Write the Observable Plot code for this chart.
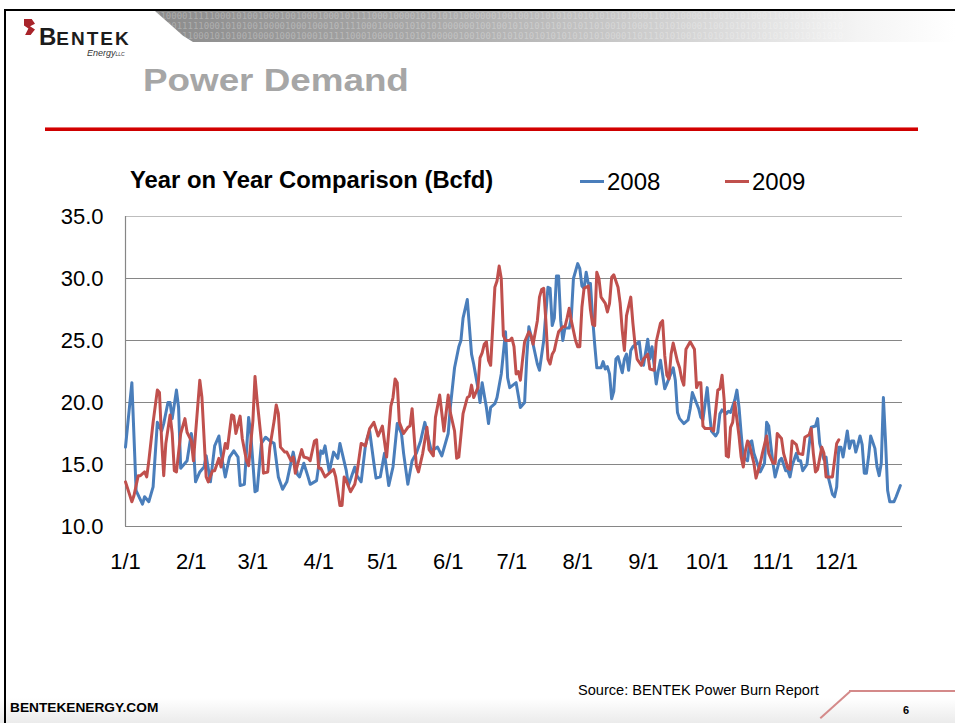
<!DOCTYPE html>
<html><head><meta charset="utf-8">
<script src="https://cdn.jsdelivr.net/npm/d3@7"></script>
<script src="https://cdn.jsdelivr.net/npm/@observablehq/plot@0.6"></script>
<style>
html,body{margin:0;padding:0;background:#fff;}
body{width:955px;height:723px;overflow:hidden;position:relative;font-family:"Liberation Sans",Arial,sans-serif;}
.abs{position:absolute;white-space:nowrap;line-height:1;}
</style></head><body>
<!-- slide frame and header -->
<div class="abs" style="left:0;top:698px;width:955px;height:25px;background:linear-gradient(to bottom,#ffffff,#ebebeb);"></div>
<div class="abs" style="left:4px;top:9px;width:951px;height:2px;background:#000"></div>
<div class="abs" style="left:4px;top:9px;width:2px;height:714px;background:#000"></div>
<div class="abs" id="band" style="left:155px;top:11px;width:800px;height:31px;background:linear-gradient(to right,#8c8c8c 0%,#a9a9a9 35%,#d2d2d2 65%,#f4f4f4 88%,#ffffff 100%);clip-path:polygon(0 0,100% 0,100% 100%,38px 100%,28px 80%);overflow:hidden;">
  <div style="font:9px/10px 'DejaVu Sans Mono',monospace;color:rgba(255,255,255,0.28);">0100001111100010100100010010001000101111000100001010101010000001001001010101010101010101000110101000011001010100011001010101010<br>0000111110001010100100001000100010111100010000101010100000010010010101010101010110100101000110101000011001010101010101010101010<br>0011111000101010010000100010001011110001000010101010000010010010101010101010101010100001101110101001010101010101010101010101010</div>
</div>
<div class="abs" style="left:24px;top:19px;width:11px;height:16px;background:#a8242a;clip-path:polygon(0 0,70% 0,100% 30%,55% 45%,100% 65%,60% 100%,10% 100%,40% 60%,0 40%);"></div>
<div class="abs" style="left:39px;top:25px;font-weight:bold;color:#1c1c1c;"><span style="font-size:24px;">B</span><span style="font-size:19px;letter-spacing:2px;">ENTEK</span></div>
<div class="abs" style="left:87px;top:49px;font-size:9px;font-style:italic;color:#333;">Energy<span style="font-size:5px;">LLC</span></div>
<div class="abs" style="left:143px;top:64px;font-size:32px;font-weight:bold;color:#a6a6a6;transform:scaleX(1.15);transform-origin:left top;">Power Demand</div>
<div class="abs" style="left:45px;top:127px;width:873px;height:4px;background:linear-gradient(to bottom,#f0b0b0 0%,#d40000 35%,#cc0000 100%);"></div>

<!-- chart title and legend -->
<div class="abs" style="left:130px;top:168px;font-size:23.8px;font-weight:bold;color:#000;">Year on Year Comparison (Bcfd)</div>
<div class="abs" id="legend"></div>

<div class="abs" id="chart" style="left:0;top:196px;"></div>

<!-- footer -->
<div class="abs" style="left:578px;top:683px;font-size:14.6px;color:#000;">Source: BENTEK Power Burn Report</div>
<div class="abs" style="left:10px;top:701px;font-size:13.7px;font-weight:bold;color:#000;">BENTEKENERGY.COM</div>
<div class="abs" style="left:903px;top:705px;font-size:11px;font-weight:bold;color:#000;">6</div>
<div class="abs" style="left:815px;top:704px;width:40px;height:1.5px;background:#d48a8a;transform:rotate(-42deg);transform-origin:center;"></div>
<div class="abs" style="left:849px;top:690px;width:106px;height:1.5px;background:#d48a8a;"></div>

<script>
// ---- data (day offset from 1 Jan, value in Bcfd) ----
const seriesNames = ["2008", "2009"];
const seriesColors = ["#4a7ebb", "#c0504d"];
const yTicks = [10, 15, 20, 25, 30, 35];
const monthLabels = ["1/1","2/1","3/1","4/1","5/1","6/1","7/1","8/1","9/1","10/1","11/1","12/1"];

const demand2008 = [[0,16.4],[3,21.6],[5,12.9],[8,11.8],[9,12.4],[11,12.0],[13,13.2],[15,18.4],[17,17.7],[18,18.3],[20,20.0],[21,20.0],[22,18.7],[24,21.0],[25,19.6],[26,14.7],[29,15.3],[31,17.5],[32,16.4],[33,13.6],[35,14.4],[37,14.8],[38,15.7],[40,13.6],[42,16.5],[44,17.3],[45,15.9],[47,14.0],[49,15.6],[51,16.1],[53,15.6],[54,13.3],[56,13.4],[58,18.8],[59,17.5],[61,12.8],[62,12.9],[64,16.7],[66,17.2],[68,16.9],[70,16.7],[72,14.0],[74,13.0],[76,13.6],[79,16.0],[81,14.2],[82,14.0],[84,15.1],[86,14.0],[87,13.4],[90,13.7],[92,16.1],[93,15.9],[94,16.5],[96,14.4],[98,16.0],[100,15.5],[101,16.7],[104,14.5],[105,13.3],[108,14.8],[109,14.1],[111,13.6],[113,16.5],[114,17.2],[115,17.7],[117,15.1],[118,13.9],[120,14.0],[122,15.9],[124,13.3],[126,14.8],[128,18.3],[130,17.5],[131,15.9],[133,13.4],[135,15.3],[137,15.9],[139,16.9],[141,18.4],[144,16.1],[147,16.4],[149,15.7],[152,17.5],[153,19.6],[155,22.8],[157,24.5],[158,25.0],[159,26.8],[161,28.3],[162,26.1],[163,23.9],[164,23.1],[166,21.2],[167,20.0],[168,21.6],[170,19.6],[171,18.3],[172,19.6],[174,19.9],[175,20.4],[177,22.3],[179,25.7],[180,22.0],[181,21.2],[184,21.6],[186,19.6],[188,20.0],[189,23.6],[190,26.1],[192,24.7],[194,23.1],[195,22.6],[197,25.0],[198,27.2],[199,29.3],[200,29.2],[201,26.2],[202,26.8],[203,30.2],[204,30.2],[205,26.6],[206,25.0],[207,26.0],[209,26.0],[210,26.9],[211,30.0],[213,31.2],[214,30.8],[215,29.4],[216,29.2],[217,30.5],[218,29.6],[219,29.6],[220,26.9],[221,24.7],[222,22.8],[224,22.8],[225,23.3],[226,22.7],[227,22.9],[228,22.3],[229,20.3],[230,20.9],[231,23.5],[232,23.7],[234,22.4],[235,23.5],[236,23.9],[237,22.6],[238,24.2],[239,24.5],[242,24.9],[243,23.5],[244,23.0],[246,25.1],[247,23.5],[248,24.5],[250,21.5],[251,22.6],[252,23.4],[254,21.1],[255,21.5],[258,22.8],[259,21.8],[260,19.2],[261,18.7],[263,18.3],[265,18.6],[266,19.5],[267,20.8],[270,19.5],[271,18.8],[272,18.6],[273,19.9],[274,21.2],[275,19.3],[276,17.7],[278,17.3],[279,17.6],[280,19.1],[281,19.4],[283,19.1],[284,19.3],[285,19.2],[287,20.2],[288,21.0],[289,19.6],[290,17.5],[291,15.6],[293,15.3],[294,16.8],[295,16.9],[296,15.9],[298,14.9],[299,14.4],[301,15.1],[302,18.4],[303,18.1],[304,16.5],[305,15.1],[306,14.0],[308,15.3],[309,15.5],[311,14.5],[312,14.5],[313,14.0],[314,14.9],[316,15.9],[317,15.3],[318,15.3],[319,14.5],[321,15.0],[322,16.5],[323,18.0],[325,18.1],[326,18.7],[327,16.7],[329,15.4],[330,15.6],[331,14.0],[333,12.6],[334,12.4],[335,13.2],[336,16.4],[337,16.4],[338,15.6],[340,17.7],[341,16.3],[342,16.9],[343,16.9],[344,16.0],[345,16.6],[346,17.3],[347,16.6],[348,14.3],[349,14.3],[350,15.6],[351,17.3],[353,16.3],[354,14.8],[355,14.1],[356,15.1],[357,20.4],[358,16.9],[359,12.9],[360,12.0],[362,12.0],[363,12.4],[365,13.3]];

const demand2009 = [[0,13.6],[3,12.0],[4,12.5],[6,14.1],[7,14.1],[9,14.4],[10,14.0],[11,15.3],[13,18.4],[15,21.0],[16,20.8],[17,17.0],[18,14.1],[19,16.7],[21,19.0],[22,17.5],[23,14.5],[24,14.4],[26,17.5],[28,18.7],[29,17.6],[31,16.9],[32,15.3],[33,17.5],[35,21.8],[36,20.4],[38,14.0],[39,13.6],[41,14.5],[42,14.5],[44,15.5],[45,14.8],[47,16.7],[48,16.3],[50,19.0],[51,18.9],[52,17.5],[54,18.9],[55,17.1],[57,15.3],[58,14.9],[60,18.5],[61,22.1],[62,20.2],[64,16.9],[65,14.3],[67,14.4],[68,16.4],[70,18.5],[71,19.8],[72,19.1],[73,16.4],[75,16.0],[76,16.0],[78,15.3],[79,15.6],[80,14.3],[82,15.6],[83,16.2],[84,15.6],[86,15.5],[87,15.3],[89,16.9],[90,17.0],[91,14.7],[92,14.7],[94,14.0],[96,14.3],[98,14.6],[99,14.0],[101,11.7],[102,11.7],[103,14.0],[104,13.7],[106,12.8],[108,13.4],[109,14.3],[111,16.7],[113,16.5],[114,17.2],[115,17.9],[117,18.4],[119,17.3],[121,18.1],[123,15.6],[125,19.7],[126,20.4],[127,21.9],[128,21.6],[129,18.4],[131,17.5],[133,18.0],[134,18.1],[135,19.5],[137,14.9],[138,14.4],[140,15.9],[142,18.0],[143,16.2],[145,15.7],[146,18.8],[148,20.6],[150,17.7],[152,20.6],[153,19.2],[155,17.7],[156,15.5],[157,15.6],[159,19.1],[161,20.4],[162,20.5],[163,21.4],[164,20.4],[166,21.2],[167,23.6],[168,24.0],[169,24.7],[170,24.9],[171,23.4],[172,23.0],[174,29.3],[175,29.8],[176,31.0],[177,30.0],[178,25.4],[179,25.0],[180,25.0],[181,25.0],[182,25.2],[183,24.5],[184,22.3],[185,22.5],[186,21.8],[187,23.4],[188,24.9],[190,25.7],[191,25.4],[192,24.7],[194,26.6],[195,28.5],[196,29.1],[197,29.2],[198,26.6],[199,23.5],[200,23.1],[201,23.9],[202,24.2],[203,25.0],[204,25.7],[206,26.1],[207,26.1],[208,26.8],[209,27.6],[210,26.6],[212,25.0],[213,24.5],[214,24.5],[215,27.7],[216,29.2],[218,29.4],[219,27.5],[220,26.3],[221,26.2],[222,30.5],[223,30.0],[224,28.5],[226,28.0],[227,27.3],[228,28.0],[229,30.1],[230,30.3],[232,29.3],[233,28.0],[234,25.8],[235,24.2],[236,27.0],[238,28.5],[239,26.4],[240,24.7],[241,23.5],[243,23.0],[244,23.5],[246,23.9],[247,22.7],[249,22.6],[250,24.9],[252,26.4],[253,26.6],[254,23.8],[255,22.2],[256,21.9],[257,23.9],[258,24.8],[260,23.3],[261,22.8],[262,21.9],[263,21.4],[264,24.3],[266,24.9],[268,24.3],[269,21.2],[270,21.6],[271,21.6],[272,18.1],[273,17.9],[275,17.9],[276,17.9],[277,17.7],[279,21.0],[280,21.1],[281,22.2],[282,20.2],[283,15.7],[284,15.6],[285,18.0],[286,18.4],[287,20.0],[289,17.3],[290,15.6],[291,14.8],[292,16.1],[293,16.9],[294,16.5],[296,15.1],[297,13.9],[299,15.1],[300,15.9],[302,17.3],[303,15.9],[305,15.1],[306,15.1],[307,17.5],[309,17.1],[310,15.9],[312,14.7],[313,14.6],[314,16.9],[316,16.6],[317,15.9],[319,15.8],[320,17.2],[322,17.4],[323,17.9],[324,15.9],[325,14.4],[326,14.6],[328,16.4],[329,15.9],[330,14.0],[332,14.0],[333,14.0],[335,16.7],[336,17.0]];

// ---- build ----
const day = n => new Date(Date.UTC(2008, 0, 1 + n));
const xStart = day(0), xEnd = day(366);
const monthStarts = d3.utcMonths(xStart, xEnd);

const chart = Plot.plot({
  width: 955,
  height: 390,
  marginLeft: 125,
  marginRight: 53,
  marginTop: 20,
  marginBottom: 60,
  style: {fontFamily: "'Liberation Sans', Arial, sans-serif", fontSize: "21px", color: "#000", background: "transparent", overflow: "visible"},
  x: {type: "utc", domain: [xStart, xEnd]},
  y: {domain: [10, 35]},
  marks: [
    Plot.gridY(yTicks.filter(t => t < 35), {stroke: "#868686", strokeOpacity: 1, strokeWidth: 1.2}),
    Plot.gridY(yTicks.filter(t => t === 35), {stroke: "#bdbdbd", strokeOpacity: 1, strokeWidth: 1.2}),
    Plot.ruleX([xStart], {stroke: "#868686", strokeWidth: 1.2}),
    Plot.line(demand2008, {x: d => day(d[0]), y: d => d[1], stroke: seriesColors[0], strokeWidth: 3, strokeLinejoin: "round", strokeLinecap: "round"}),
    Plot.line(demand2009, {x: d => day(d[0]), y: d => d[1], stroke: seriesColors[1], strokeWidth: 3, strokeLinejoin: "round", strokeLinecap: "round"}),
    Plot.axisY(yTicks, {tickSize: 0, tickPadding: 22, tickFormat: d => d.toFixed(1), label: null, fontSize: 22}),
    Plot.axisX(monthStarts, {tickSize: 0, tickPadding: 27, tickFormat: d => monthLabels[d.getUTCMonth()], label: null, fontSize: 22})
  ]
});
document.getElementById("chart").appendChild(chart);

// legend
const legend = document.getElementById("legend");
const legendPos = [580, 725];
seriesNames.forEach((name, i) => {
  const sw = document.createElement("div");
  sw.className = "abs";
  sw.style.cssText = `left:${legendPos[i]}px;top:180px;width:24px;height:3px;background:${seriesColors[i]};`;
  legend.appendChild(sw);
  const tx = document.createElement("div");
  tx.className = "abs";
  tx.style.cssText = `left:${legendPos[i] + 27}px;top:170px;font-size:24px;color:#000;`;
  tx.textContent = name;
  legend.appendChild(tx);
});
</script>
</body></html>
